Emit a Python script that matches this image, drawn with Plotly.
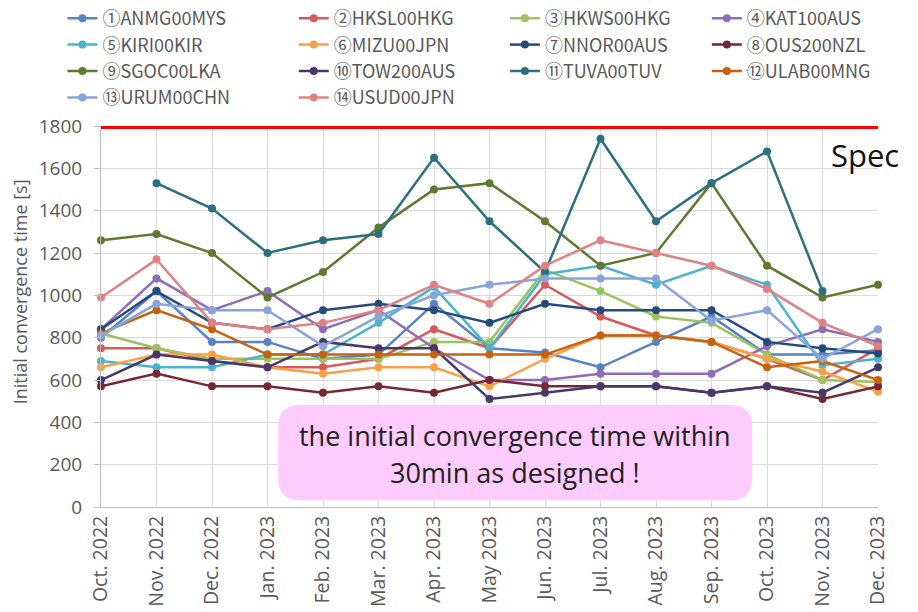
import plotly.graph_objects as go

months = ["Oct. 2022", "Nov. 2022", "Dec. 2022", "Jan. 2023", "Feb. 2023", "Mar. 2023",
          "Apr. 2023", "May 2023", "Jun. 2023", "Jul. 2023", "Aug. 2023", "Sep. 2023",
          "Oct. 2023", "Nov. 2023", "Dec. 2023"]

ANMG00MYS = [800, 1020, 780, 780, 700, 720, 960, 750, 730, 660, 780, 900, 720, 720, 740]
HKSL00HKG = [750, 750, 690, 660, 660, 700, 840, 750, 1050, 900, 810, 780, 700, 600, 750]
HKWS00HKG = [820, 750, 700, 700, 700, 700, 780, 780, 1120, 1020, 900, 870, 720, 600, 590]
KAT100AUS = [840, 1080, 930, 1020, 840, 930, 750, 600, 600, 630, 630, 630, 760, 840, 780]
KIRI00KIR = [690, 660, 660, 720, 720, 870, 1040, 750, 1100, 1140, 1050, 1140, 1050, 670, 700]
MIZU00JPN = [660, 720, 720, 660, 630, 660, 660, 570, 700, 810, 810, 780, 700, 640, 545]
NNOR00AUS = [840, 1020, 870, 840, 930, 960, 930, 870, 960, 930, 930, 930, 780, 750, 725]
OUS200NZL = [570, 630, 570, 570, 540, 570, 540, 600, 570, 570, 570, 540, 570, 510, 570]
SGOC00LKA = [1260, 1290, 1200, 990, 1110, 1320, 1500, 1530, 1350, 1140, 1200, 1530, 1140, 990, 1050]
TOW200AUS = [600, 720, 690, 660, 780, 750, 750, 510, 540, 570, 570, 540, 570, 540, 660]
TUVA00TUV = [None, 1530, 1410, 1200, 1260, 1290, 1650, 1350, 1110, 1740, 1350, 1530, 1680, 1020, None]
ULAB00MNG = [820, 930, 840, 720, 720, 720, 720, 720, 720, 810, 810, 780, 660, 690, 600]
URUM00CHN = [810, 960, 930, 930, 760, 900, 1000, 1050, 1080, 1080, 1080, 880, 930, 700, 840]
USUD00JPN = [990, 1170, 870, 840, 870, 930, 1050, 960, 1140, 1260, 1200, 1140, 1030, 870, 760]

SPEC = 1800

series_names = ["①ANMG00MYS", "②HKSL00HKG", "③HKWS00HKG", "④KAT100AUS",
                "⑤KIRI00KIR", "⑥MIZU00JPN", "⑦NNOR00AUS", "⑧OUS200NZL",
                "⑨SGOC00LKA", "⑩TOW200AUS", "⑪TUVA00TUV", "⑫ULAB00MNG",
                "⑬URUM00CHN", "⑭USUD00JPN"]
series_values = [ANMG00MYS, HKSL00HKG, HKWS00HKG, KAT100AUS, KIRI00KIR, MIZU00JPN,
                 NNOR00AUS, OUS200NZL, SGOC00LKA, TOW200AUS, TUVA00TUV, ULAB00MNG,
                 URUM00CHN, USUD00JPN]
colors = ["#5a82c2", "#d65a5a", "#9cc45c", "#8f6cb8", "#4cb3cf", "#f7a048",
          "#254a7c", "#772634", "#5e7a30", "#463868", "#2e6f7f", "#c8620e",
          "#86a6d9", "#e08282"]

note_lines = ["the initial convergence time within", "30min as designed !"]

legend_ids = ["legend", "legend2", "legend3", "legend4"]

fig = go.Figure()
for i, (name, vals, c) in enumerate(zip(series_names, series_values, colors)):
    fig.add_trace(go.Scatter(
        x=months, y=vals, name=name, mode="lines+markers",
        line=dict(color=c, width=2.5), marker=dict(color=c, size=8),
        cliponaxis=False, connectgaps=False,
        legend=legend_ids[i % 4], legendgroup=f"g{i}"))

# Spec line
fig.add_shape(type="line", xref="paper", x0=0, x1=1, yref="y", y0=SPEC, y1=SPEC,
              line=dict(color="#ff0000", width=6), layer="above")
fig.add_annotation(text="Spec", xref="paper", x=1.03, yref="y", y=1665,
                   xanchor="right", yanchor="middle", showarrow=False,
                   font=dict(family="Open Sans", size=31, color="#111111"))

# Y axis title (as annotation)
fig.add_annotation(text="Initial convergence time [s]", xref="paper", yref="paper",
                   x=-0.104, y=0.564, textangle=-90, showarrow=False,
                   xanchor="center", yanchor="middle",
                   font=dict(family="Open Sans", size=18, color="#595959"))

# Pink rounded box
L, R, B, T = 0.228, 0.838, 0.018, 0.268
rx, ry = 22 / 777, 22 / 381
path = (f"M {L+rx},{B} L {R-rx},{B} Q {R},{B} {R},{B+ry} L {R},{T-ry} Q {R},{T} {R-rx},{T} "
        f"L {L+rx},{T} Q {L},{T} {L},{T-ry} L {L},{B+ry} Q {L},{B} {L+rx},{B} Z")
fig.add_shape(type="path", xref="paper", yref="paper", path=path,
              fillcolor="#ffccff", line=dict(width=0), layer="above")
for txt, yy in zip(note_lines, [(507 - 435) / 381, (507 - 472) / 381]):
    fig.add_annotation(text=txt, xref="paper", yref="paper", x=(L + R) / 2, y=yy,
                       xanchor="center", yanchor="middle",
                       showarrow=False, align="center",
                       font=dict(family="Open Sans", size=27, color="#222222"))

legend_x = [0.068, 0.320, 0.550, 0.770]
legend_common = dict(orientation="v", xref="container", yref="container",
                     y=1.005, xanchor="left", yanchor="top", bgcolor="rgba(0,0,0,0)",
                     font=dict(family="Noto Sans CJK JP", size=18, color="#595959"),
                     traceorder="normal", itemwidth=30, tracegroupgap=6)

fig.update_layout(
    width=918, height=612,
    margin=dict(l=101, r=40, t=126, b=105, autoexpand=False),
    plot_bgcolor="white", paper_bgcolor="white",
    showlegend=True,
    legend=dict(x=legend_x[0], **legend_common),
    legend2=dict(x=legend_x[1], **legend_common),
    legend3=dict(x=legend_x[2], **legend_common),
    legend4=dict(x=legend_x[3], **legend_common),
    xaxis=dict(type="category", range=[0, 14], tickangle=-90,
               showgrid=True, gridcolor="#d9d9d9", gridwidth=1,
               showline=True, linecolor="#bfbfbf", ticks="",
               tickfont=dict(family="Open Sans", size=19.5, color="#595959")),
    yaxis=dict(range=[0, 1800], dtick=200, showgrid=True, gridcolor="#d9d9d9",
               showline=True, linecolor="#bfbfbf", ticks="outside", ticklen=6,
               tickcolor="#bfbfbf", zeroline=False, ticklabelstandoff=8,
               tickfont=dict(family="Open Sans", size=19, color="#595959")),
)

fig.write_html("out.html", config={"displayModeBar": False},
               post_script="document.body.style.margin='0px';")
